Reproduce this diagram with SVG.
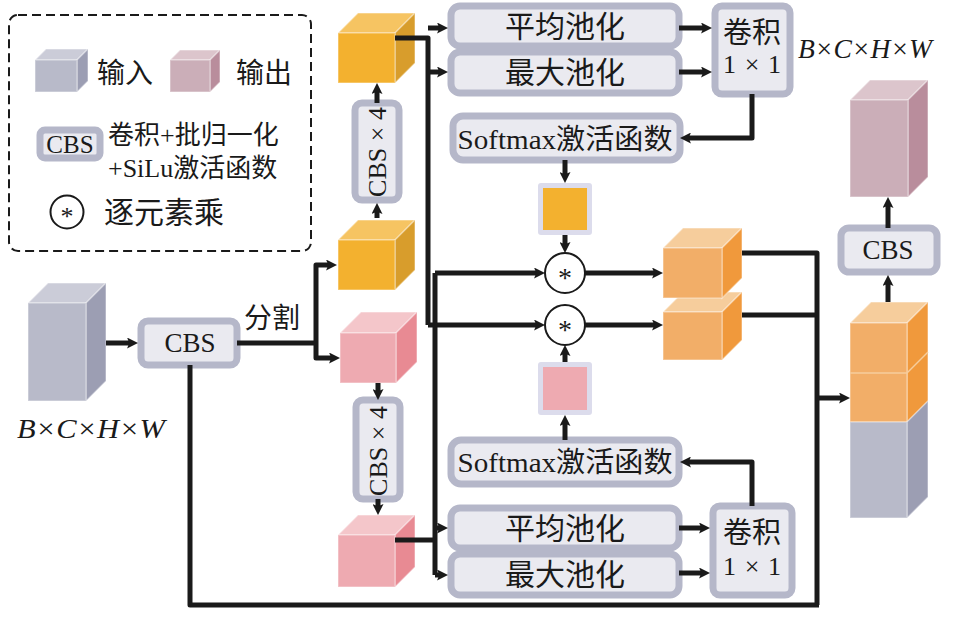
<svg xmlns="http://www.w3.org/2000/svg" width="965" height="624" viewBox="0 0 965 624">
<defs>
<marker id="ah" viewBox="0 0 10 10" refX="4.5" refY="5" markerWidth="11" markerHeight="11" markerUnits="userSpaceOnUse" orient="auto"><path d="M0,0 L10,5 L0,10 L2,5 z" fill="#1a1a1a"/></marker>
<style>
.t{font-family:"Liberation Serif","Noto Sans CJK SC",serif;fill:#1a1a1a}
.it{font-family:"Liberation Serif",serif;font-style:italic;fill:#1a1a1a}
.box{fill:#eaeaf0;stroke:#b5b7c9;stroke-width:7}
.ln{fill:none;stroke:#1a1a1a;stroke-width:5;stroke-linejoin:round}
.ar{marker-end:url(#ah)}
.og .f{fill:#f3b12f}.og .t2{fill:#f6c462}.og .r{fill:#d89d2c}
.pk .f{fill:#eeaab1}.pk .t2{fill:#f4c6ca}.pk .r{fill:#e88a93}
.lo .f{fill:#f2ae68}.lo .t2{fill:#f6cd9c}.lo .r{fill:#f0993c}
.gr .f{fill:#b8bac9}.gr .t2{fill:#cbccd8}.gr .r{fill:#9c9eb3}
.op .f{fill:#cbaeb8}.op .t2{fill:#dcc5cc}.op .r{fill:#b98d9c}
.cube polygon,.cube rect{stroke:#ffffff;stroke-opacity:0.35;stroke-width:1.5}
</style>
</defs>
<rect width="965" height="624" fill="#ffffff"/>

<g id="legend">
<rect x="9" y="15" width="302" height="236" rx="9" fill="none" stroke="#1a1a1a" stroke-width="2" stroke-dasharray="9,5"/>
<g class="cube gr"><polygon class="t2" points="35,60 46,49 88,49 77,60"/><polygon class="r" points="77,60 88,49 88,81 77,92"/><rect class="f" x="35" y="60" width="42" height="32"/></g>
<text class="t" x="97" y="83" font-size="28">输入</text>
<g class="cube op"><polygon class="t2" points="170,60 180,50 220,50 210,60"/><polygon class="r" points="210,60 220,50 220,82 210,92"/><rect class="f" x="170" y="60" width="40" height="32"/></g>
<text class="t" x="236" y="83" font-size="28">输出</text>
<rect x="40" y="130" width="60" height="28" rx="5" class="box" stroke-width="6"/>
<text class="t" x="70" y="153" font-size="25" text-anchor="middle">CBS</text>
<text class="t" x="108" y="144" font-size="26">卷积+批归一化</text>
<text class="t" x="108" y="177" font-size="26">+SiLu激活函数</text>
<circle cx="67" cy="212" r="16.5" fill="#ffffff" stroke="#1a1a1a" stroke-width="2"/>
<text class="t" x="67" y="225" font-size="26" text-anchor="middle">*</text>
<text class="t" x="104" y="223" font-size="30">逐元素乘</text>
</g>

<g id="input">
<g class="cube gr"><polygon class="t2" points="28,303 48,283 106,283 86,303"/><polygon class="r" points="86,303 106,283 106,381 86,401"/><rect class="f" x="28" y="303" width="58" height="98"/></g>
<text class="it" x="17" y="438" font-size="27" textLength="148" lengthAdjust="spacingAndGlyphs">B×C×H×W</text>
</g>

<g id="cbs-main">
<rect x="141" y="321" width="96" height="44" rx="7" class="box"/>
<text class="t" x="190" y="352" font-size="27" text-anchor="middle">CBS</text>
</g>
<text class="t" x="244" y="328" font-size="28">分割</text>

<g id="orange-cube-1" class="cube og"><polygon class="t2" points="338,240 358,220 415,220 395,240"/><polygon class="r" points="395,240 415,220 415,270 395,290"/><rect class="f" x="338" y="240" width="57" height="50"/></g>
<g id="cbs4-top">
<rect x="355" y="103" width="44" height="97" rx="7" class="box"/>
<text class="t" x="377" y="161" font-size="26" text-anchor="middle" transform="rotate(-90 377 152)">CBS × 4</text>
</g>
<g id="orange-cube-2" class="cube og"><polygon class="t2" points="338,33 358,13 415,13 395,33"/><polygon class="r" points="395,33 415,13 415,63 395,83"/><rect class="f" x="338" y="33" width="57" height="50"/></g>

<g id="pink-cube-1" class="cube pk"><polygon class="t2" points="340,333 361,312 417,312 396,333"/><polygon class="r" points="396,333 417,312 417,362 396,383"/><rect class="f" x="340" y="333" width="56" height="50"/></g>
<g id="cbs4-bottom">
<rect x="356" y="400" width="44" height="99" rx="7" class="box"/>
<text class="t" x="378" y="460" font-size="26" text-anchor="middle" transform="rotate(-90 378 451)">CBS × 4</text>
</g>
<g id="pink-cube-2" class="cube pk"><polygon class="t2" points="338,535 358,515 415,515 395,535"/><polygon class="r" points="395,535 415,515 415,567 395,587"/><rect class="f" x="338" y="535" width="57" height="52"/></g>

<g id="avgpool-top"><rect x="451" y="6" width="228" height="40" rx="9" class="box"/><text class="t" x="565" y="37" font-size="30" text-anchor="middle">平均池化</text></g>
<g id="maxpool-top"><rect x="451" y="52" width="228" height="41" rx="9" class="box"/><text class="t" x="565" y="83" font-size="30" text-anchor="middle">最大池化</text></g>
<g id="conv-top"><rect x="715" y="6" width="75" height="88" rx="7" class="box"/><text class="t" x="752" y="43" font-size="29" text-anchor="middle">卷积</text><text class="t" x="752" y="73" font-size="26" text-anchor="middle" textLength="58" lengthAdjust="spacing">1×1</text></g>
<g id="softmax-top"><rect x="453" y="116" width="227" height="44" rx="10" class="box"/><text class="t" x="565" y="149" font-size="28" text-anchor="middle" textLength="215" lengthAdjust="spacingAndGlyphs">Softmax激活函数</text></g>
<g id="att-orange"><rect x="538" y="183" width="54" height="52" rx="3" fill="#dcdcec"/><rect x="543" y="188" width="44" height="42" fill="#f3b12f"/></g>
<g id="mul-1"><circle cx="565" cy="273" r="20" fill="#ffffff" stroke="#1a1a1a" stroke-width="2"/><text class="t" x="565" y="287" font-size="28" text-anchor="middle">*</text></g>
<g id="mul-2"><circle cx="565" cy="325" r="20" fill="#ffffff" stroke="#1a1a1a" stroke-width="2"/><text class="t" x="565" y="339" font-size="28" text-anchor="middle">*</text></g>
<g id="att-pink"><rect x="538" y="362" width="54" height="53" rx="3" fill="#dcdcec"/><rect x="543" y="367" width="44" height="43" fill="#eeaab1"/></g>
<g id="softmax-bottom"><rect x="451" y="440" width="228" height="44" rx="10" class="box"/><text class="t" x="565" y="472" font-size="28" text-anchor="middle" textLength="215" lengthAdjust="spacingAndGlyphs">Softmax激活函数</text></g>
<g id="avgpool-bottom"><rect x="451" y="508" width="228" height="40" rx="9" class="box"/><text class="t" x="565" y="539" font-size="30" text-anchor="middle">平均池化</text></g>
<g id="maxpool-bottom"><rect x="451" y="554" width="228" height="41" rx="9" class="box"/><text class="t" x="565" y="585" font-size="30" text-anchor="middle">最大池化</text></g>
<g id="conv-bottom"><rect x="713" y="506" width="79" height="89" rx="7" class="box"/><text class="t" x="752" y="543" font-size="29" text-anchor="middle">卷积</text><text class="t" x="752" y="575" font-size="26" text-anchor="middle" textLength="58" lengthAdjust="spacing">1×1</text></g>

<g id="fused-2" class="cube lo"><polygon class="t2" points="663,312 683,292 742,292 722,312"/><polygon class="r" points="722,312 742,292 742,340 722,360"/><rect class="f" x="663" y="312" width="59" height="48"/></g>
<g id="fused-1" class="cube lo"><polygon class="t2" points="663,248 683,228 742,228 722,248" stroke="#ffffff"/><polygon class="r" points="722,248 742,228 742,278 722,298"/><rect class="f" x="663" y="248" width="59" height="50"/></g>

<g id="concat">
<g class="cube lo"><polygon class="t2" points="850,323 871,302 928,302 907,323"/><polygon class="r" points="907,323 928,302 928,401 907,422"/><rect class="f" x="850" y="323" width="57" height="99"/></g>
<g class="cube gr"><polygon class="r" points="907,422 928,401 928,497 907,518"/><rect class="f" x="850" y="422" width="57" height="96"/></g>
<line x1="850" y1="373" x2="907" y2="373" stroke="#f6cd9c" stroke-width="1.5"/>
<line x1="907" y1="373" x2="928" y2="352" stroke="#f6cd9c" stroke-width="1.5"/>
</g>
<g id="cbs-right"><rect x="841" y="228" width="96" height="44" rx="8" class="box"/><text class="t" x="888" y="259" font-size="27" text-anchor="middle">CBS</text></g>
<g id="output" class="cube op"><polygon class="t2" points="850,100 870,80 928,80 908,100"/><polygon class="r" points="908,100 928,80 928,177 908,197"/><rect class="f" x="850" y="100" width="58" height="97"/></g>
<text class="it" x="798" y="58" font-size="27" textLength="134" lengthAdjust="spacingAndGlyphs">B×C×H×W</text>

<g id="connectors">
<path class="ln ar" d="M106,343 H132"/>
<path class="ln" d="M237,343 H316"/>
<path class="ln ar" d="M316,343 V265 H331"/>
<path class="ln ar" d="M316,343 V358 H334"/>
<path class="ln ar" d="M377,218 V209"/>
<path class="ln ar" d="M377,103 V89"/>
<path class="ln ar" d="M378,383 V394"/>
<path class="ln ar" d="M378,499 V509"/>
<path class="ln" d="M395,38 H428 V325"/>
<path class="ln ar" d="M428,28 H442"/>
<path class="ln ar" d="M428,72 H442"/>
<path class="ln ar" d="M428,325 H539"/>
<path class="ln" d="M395,540 H435"/>
<path class="ln" d="M435,273 V575"/>
<path class="ln ar" d="M435,273 H539"/>
<path class="ln ar" d="M435,528 H442"/>
<path class="ln ar" d="M435,575 H442"/>
<path class="ln ar" d="M679,28 H706"/>
<path class="ln ar" d="M679,72 H706"/>
<path class="ln ar" d="M752,94 V138 H686"/>
<path class="ln ar" d="M565,160 V177"/>
<path class="ln ar" d="M565,235 V247"/>
<path class="ln ar" d="M585,273 H657"/>
<path class="ln ar" d="M585,325 H657"/>
<path class="ln ar" d="M565,440 V421"/>
<path class="ln ar" d="M565,362 V351"/>
<path class="ln ar" d="M679,528 H704"/>
<path class="ln ar" d="M679,573 H704"/>
<path class="ln ar" d="M752,506 V462 H686"/>
<path class="ln" d="M742,253 H817 V605"/>
<path class="ln" d="M742,315 H817"/>
<path class="ln ar" d="M817,398 H844"/>
<path class="ln" d="M190,365 V605 H819"/>
<path class="ln ar" d="M888,302 V281"/>
<path class="ln ar" d="M888,228 V203"/>
</g>
</svg>
